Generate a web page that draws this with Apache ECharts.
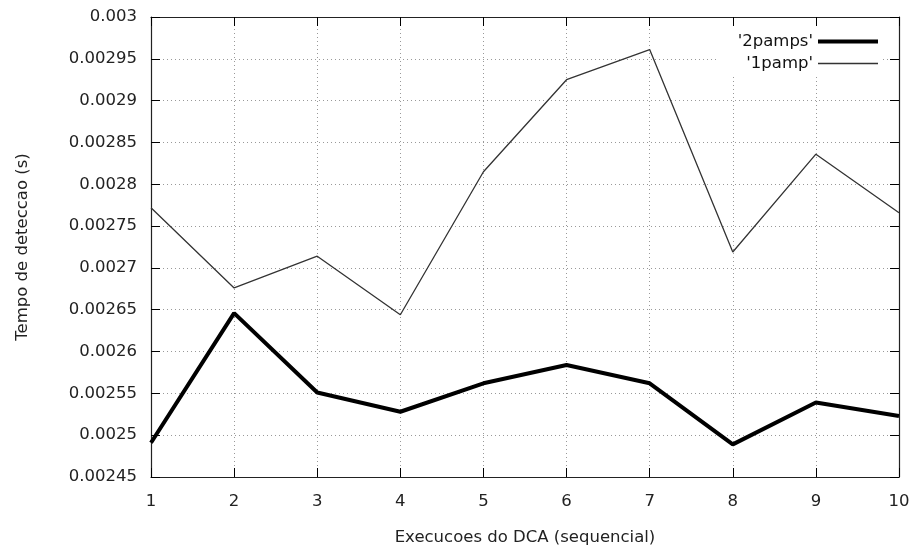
<!DOCTYPE html>
<html>
<head>
<meta charset="utf-8">
<script src="https://cdn.jsdelivr.net/npm/echarts@6/dist/echarts.min.js"></script>
<style>html,body{margin:0;padding:0;background:#fff}#c{width:913px;height:552px}</style>
</head>
<body>
<div id="c"></div>
<script>
var runs = [1, 2, 3, 4, 5, 6, 7, 8, 9, 10];
var twoPamps = [0.002491, 0.002646, 0.002551, 0.002528, 0.002562, 0.002584, 0.002562, 0.002489, 0.002539, 0.002523];
var onePamp = [0.002772, 0.002676, 0.002714, 0.002644, 0.002815, 0.002925, 0.002961, 0.002719, 0.002836, 0.002766];
var seriesNames = ["'2pamps'", "'1pamp'"];
var xTitle = 'Execucoes do DCA (sequencial)';
var yTitle = 'Tempo de deteccao (s)';

function pairs(ys) { return runs.map(function (x, i) { return [x, ys[i]]; }); }
var FONT = 'DejaVu Sans';
var FS = 16.5;
var chart = echarts.init(document.getElementById('c'));
var tickStyle = { show: true, inside: true, length: 9, lineStyle: { color: '#000', width: 1 } };
var axisLineStyle = { show: true, lineStyle: { color: '#222', width: 1.2 } };
var gridLine = { show: true, lineStyle: { color: '#999', type: [1, 3], width: 1 } };
chart.setOption({
  animation: false,
  backgroundColor: '#fff',
  textStyle: { fontFamily: FONT },
  grid: { left: 151, right: 14, top: 17, bottom: 75, containLabel: false },
  legend: {
    orient: 'vertical', right: 31, top: 29, align: 'right',
    itemWidth: 60, itemHeight: 14, itemGap: 5,
    backgroundColor: '#fff', padding: [4, 4, 4, 20],
    textStyle: { fontFamily: FONT, fontSize: FS, color: '#111' },
    data: [
      { name: seriesNames[0], icon: 'path://M0,0L60,0L60,4L0,4Z' },
      { name: seriesNames[1], icon: 'path://M0,0L60,0L60,1.3L0,1.3Z' }
    ]
  },
  xAxis: [{
    type: 'value', min: 1, max: 10, interval: 1,
    name: xTitle, nameLocation: 'middle', nameGap: 52,
    nameTextStyle: { fontFamily: FONT, fontSize: FS, color: '#222' },
    axisLine: axisLineStyle, axisTick: tickStyle,
    axisLabel: { fontFamily: FONT, fontSize: FS, color: '#222', margin: 16 },
    splitLine: gridLine
  }, {
    type: 'value', min: 1, max: 10, interval: 1, position: 'top',
    axisLine: axisLineStyle, axisTick: tickStyle,
    axisLabel: { show: false }, splitLine: { show: false }
  }],
  yAxis: [{
    type: 'value', min: 0.00245, max: 0.003, interval: 0.00005,
    name: yTitle, nameLocation: 'middle', nameGap: 120,
    nameTextStyle: { fontFamily: FONT, fontSize: FS, color: '#222' },
    axisLine: axisLineStyle, axisTick: tickStyle,
    axisLabel: { fontFamily: FONT, fontSize: FS, color: '#222', margin: 14,
      formatter: function (v) { return String(parseFloat(v.toPrecision(6))); } },
    splitLine: gridLine
  }, {
    type: 'value', min: 0.00245, max: 0.003, interval: 0.00005, position: 'right',
    axisLine: axisLineStyle, axisTick: tickStyle,
    axisLabel: { show: false }, splitLine: { show: false }
  }],
  series: [{
    name: seriesNames[0], type: 'line', data: pairs(twoPamps),
    showSymbol: false, symbol: 'none', z: 3,
    lineStyle: { color: '#000', width: 4 }, itemStyle: { color: '#000' }
  }, {
    name: seriesNames[1], type: 'line', data: pairs(onePamp),
    showSymbol: false, symbol: 'none', z: 2,
    lineStyle: { color: '#333', width: 1.3 }, itemStyle: { color: '#333' }
  }]
});
</script>
</body>
</html>
